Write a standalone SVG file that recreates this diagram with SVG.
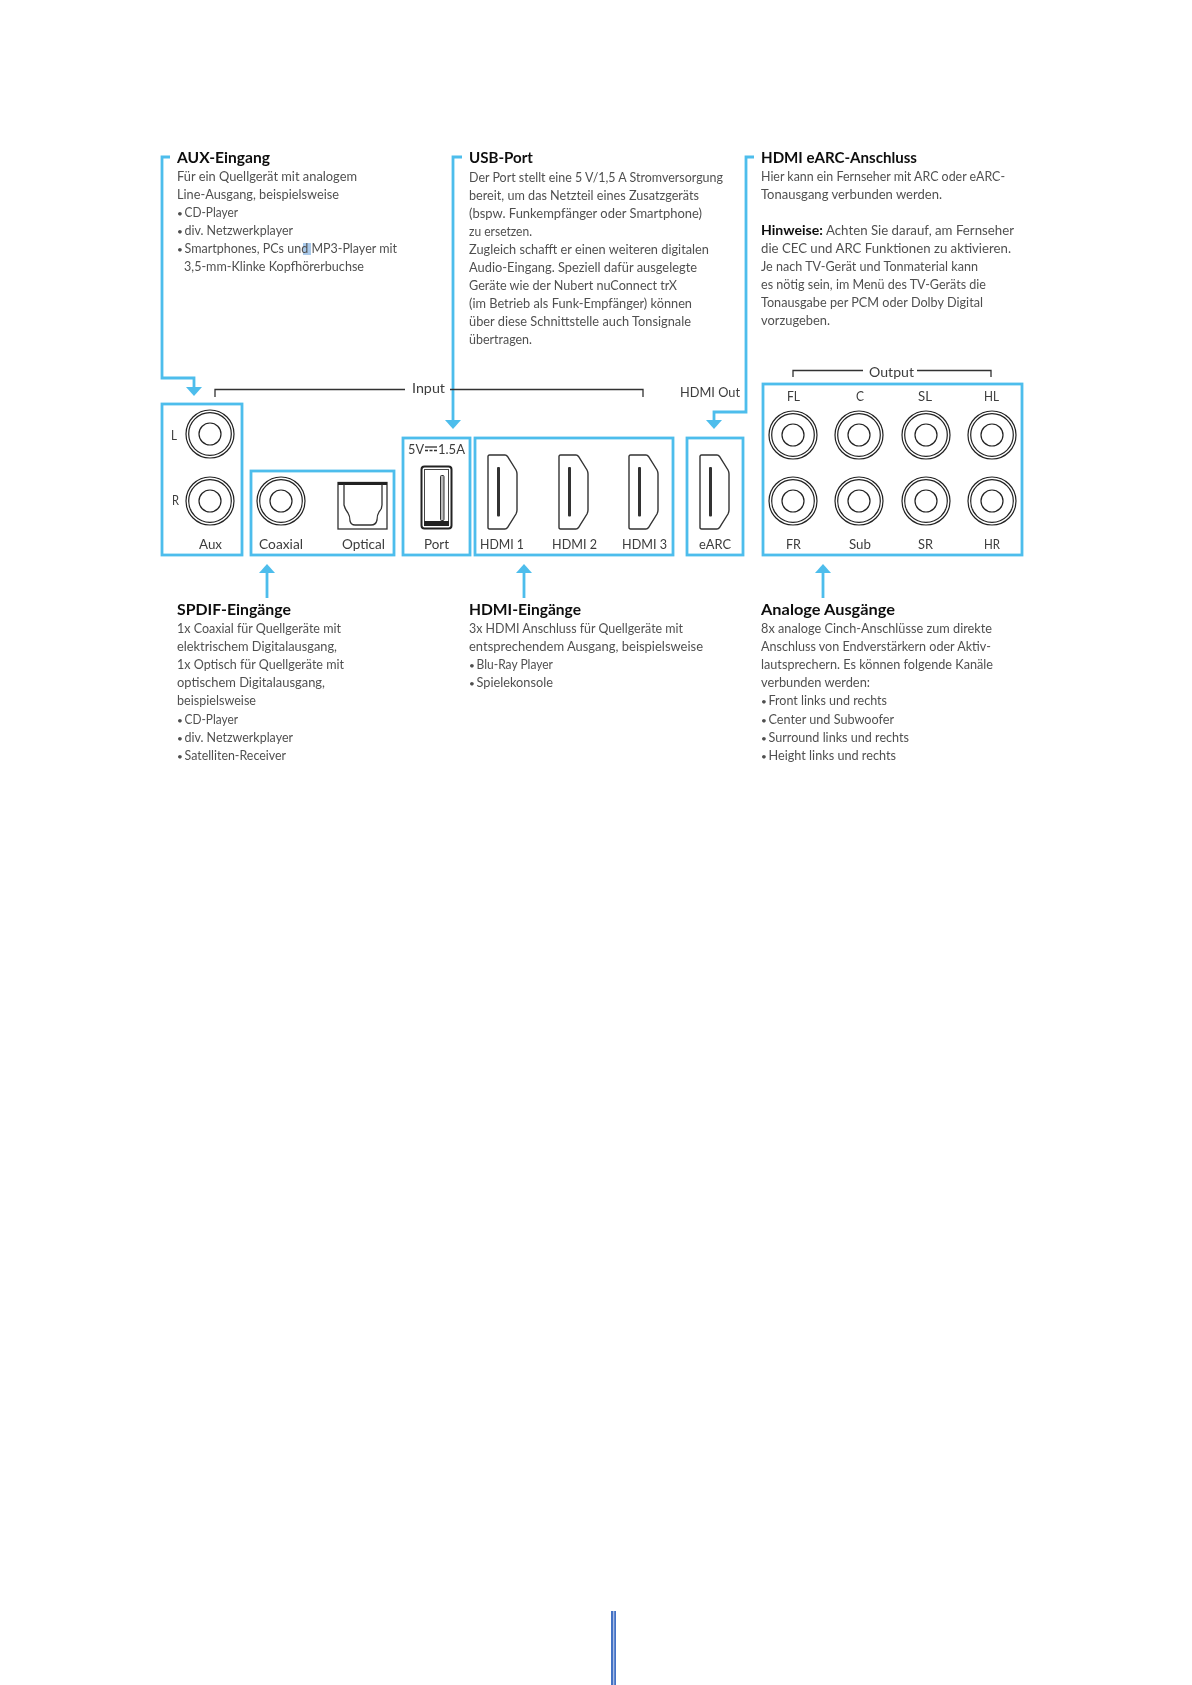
<svg xmlns="http://www.w3.org/2000/svg" xmlns:xlink="http://www.w3.org/1999/xlink" width="1192" height="1685" viewBox="0 0 1192 1685">
<style>
text{font-family:"Lato","Noto Sans","Liberation Sans",sans-serif}
.b{font-size:14px;fill:#505050}
.d{font-size:10px;fill:#505050}
.h{font-size:16px;font-weight:700;fill:#111}
.hb{font-size:14px;font-weight:700;fill:#111}
.l{font-size:14px;fill:#3c3c3c}
.box{fill:none;stroke:#4dbdec;stroke-width:2.8}
.con{fill:none;stroke:#4dbdec;stroke-width:2.8}
.br{fill:none;stroke:#333;stroke-width:1.3}
.j{fill:none;stroke:#222;stroke-width:1.2}
.p{fill:#fff;stroke:#333;stroke-width:1.4}
</style>
<defs>
<filter id="soft" filterUnits="userSpaceOnUse" x="0" y="0" width="1192" height="1685"><feGaussianBlur stdDeviation="0.5"/></filter>
<marker id="arr" markerUnits="userSpaceOnUse" markerWidth="10" markerHeight="18" refX="0" refY="9" orient="auto"><path d="M0,1 L9,9 L0,17 Z" fill="#4dbdec"/></marker>
<g id="jack"><circle class="j" r="24"/><circle class="j" r="21.3"/><circle class="j" r="11"/></g>
<g id="hd"><path class="p" d="M0,1.5 Q0,0 1.5,0 H17 Q18.5,0 19.5,1.5 L28,15 Q29,17 29,19 V55 Q29,57 28,59 L19.5,72.5 Q18.5,74 17,74 H1.5 Q0,74 0,72.5 Z"/><rect x="9" y="12" width="3" height="49.500" rx="1" fill="#333"/></g>
</defs>
<rect width="1192" height="1685" fill="#fff"/>
<g filter="url(#soft)">
<g id="connectors">
<path class="con" d="M170,157 H162 V378 H194 V387" marker-end="url(#arr)"/>
<path class="con" d="M462,157 H453 V420" marker-end="url(#arr)"/>
<path class="con" d="M754,157 H746 V412 H714 V420" marker-end="url(#arr)"/>
<path class="con" d="M267,598 V573" marker-end="url(#arr)"/>
<path class="con" d="M524,598 V573" marker-end="url(#arr)"/>
<path class="con" d="M823,598 V573" marker-end="url(#arr)"/>
<path class="br" d="M215,397 V389.500 H405 M450,389.500 H643 V397"/>
<path class="br" d="M793,377 V370.500 H863 M917,370.500 H991 V377"/>
</g>
<g id="text-aux">
<rect x="303" y="243" width="8" height="12" fill="#a9c9ea"/>
<text class="h" x="177" y="163" textLength="93" lengthAdjust="spacingAndGlyphs">AUX-Eingang</text>
<text class="b" x="177" y="181" textLength="180" lengthAdjust="spacingAndGlyphs">Für ein Quellgerät mit analogem</text>
<text class="b" x="177" y="199" textLength="162" lengthAdjust="spacingAndGlyphs">Line-Ausgang, beispielsweise</text>
<text class="d" x="177" y="217">•</text><text class="b" x="184.500" y="217" textLength="53.500" lengthAdjust="spacingAndGlyphs">CD-Player</text>
<text class="d" x="177" y="235">•</text><text class="b" x="184.500" y="235" textLength="108.500" lengthAdjust="spacingAndGlyphs">div. Netzwerkplayer</text>
<text class="d" x="177" y="253">•</text><text class="b" x="184.500" y="253" textLength="212.500" lengthAdjust="spacingAndGlyphs">Smartphones, PCs und MP3-Player mit</text>
<text class="b" x="184" y="271" textLength="180" lengthAdjust="spacingAndGlyphs">3,5-mm-Klinke Kopfhörerbuchse</text>
</g>
<g id="text-usb">
<text class="h" x="469" y="163" textLength="64" lengthAdjust="spacingAndGlyphs">USB-Port</text>
<text class="b" x="469" y="182" textLength="254" lengthAdjust="spacingAndGlyphs">Der Port stellt eine 5 V/1,5 A Stromversorgung</text>
<text class="b" x="469" y="200" textLength="230" lengthAdjust="spacingAndGlyphs">bereit, um das Netzteil eines Zusatzgeräts</text>
<text class="b" x="469" y="218" textLength="233" lengthAdjust="spacingAndGlyphs">(bspw. Funkempfänger oder Smartphone)</text>
<text class="b" x="469" y="236" textLength="63" lengthAdjust="spacingAndGlyphs">zu ersetzen.</text>
<text class="b" x="469" y="254" textLength="240" lengthAdjust="spacingAndGlyphs">Zugleich schafft er einen weiteren digitalen</text>
<text class="b" x="469" y="272" textLength="228" lengthAdjust="spacingAndGlyphs">Audio-Eingang. Speziell dafür ausgelegte</text>
<text class="b" x="469" y="290" textLength="208" lengthAdjust="spacingAndGlyphs">Geräte wie der Nubert nuConnect trX</text>
<text class="b" x="469" y="308" textLength="223" lengthAdjust="spacingAndGlyphs">(im Betrieb als Funk-Empfänger) können</text>
<text class="b" x="469" y="326" textLength="222" lengthAdjust="spacingAndGlyphs">über diese Schnittstelle auch Tonsignale</text>
<text class="b" x="469" y="344" textLength="63" lengthAdjust="spacingAndGlyphs">übertragen.</text>
</g>
<g id="text-earc">
<text class="h" x="761" y="163" textLength="156" lengthAdjust="spacingAndGlyphs">HDMI eARC-Anschluss</text>
<text class="b" x="761" y="181" textLength="244" lengthAdjust="spacingAndGlyphs">Hier kann ein Fernseher mit ARC oder eARC-</text>
<text class="b" x="761" y="199" textLength="181" lengthAdjust="spacingAndGlyphs">Tonausgang verbunden werden.</text>
<text class="hb" x="761" y="235" textLength="62" lengthAdjust="spacingAndGlyphs">Hinweise:</text>
<text class="b" x="826" y="235" textLength="188" lengthAdjust="spacingAndGlyphs">Achten Sie darauf, am Fernseher</text>
<text class="b" x="761" y="253" textLength="250" lengthAdjust="spacingAndGlyphs">die CEC und ARC Funktionen zu aktivieren.</text>
<text class="b" x="761" y="271" textLength="217" lengthAdjust="spacingAndGlyphs">Je nach TV-Gerät und Tonmaterial kann</text>
<text class="b" x="761" y="289" textLength="225" lengthAdjust="spacingAndGlyphs">es nötig sein, im Menü des TV-Geräts die</text>
<text class="b" x="761" y="307" textLength="222" lengthAdjust="spacingAndGlyphs">Tonausgabe per PCM oder Dolby Digital</text>
<text class="b" x="761" y="325" textLength="69" lengthAdjust="spacingAndGlyphs">vorzugeben.</text>
</g>
<g id="bracket-labels">
<text class="l" x="412" y="393" textLength="33" lengthAdjust="spacingAndGlyphs">Input</text>
<text class="l" x="869" y="377" textLength="45" lengthAdjust="spacingAndGlyphs">Output</text>
<text class="l" x="680" y="397" textLength="60" lengthAdjust="spacingAndGlyphs">HDMI Out</text>
</g>
<g id="node-aux">
<rect class="box" x="162" y="404" width="80" height="151"/>
<use href="#jack" x="210" y="434"/>
<use href="#jack" x="210" y="501"/>
<text class="l" x="171" y="440" textLength="6" lengthAdjust="spacingAndGlyphs">L</text>
<text class="l" x="172" y="505" textLength="7" lengthAdjust="spacingAndGlyphs">R</text>
<text class="l" x="199" y="549" textLength="23" lengthAdjust="spacingAndGlyphs">Aux</text>
</g>
<g id="node-spdif">
<rect class="box" x="251" y="471" width="143" height="84"/>
<use href="#jack" x="281" y="501"/>
<rect x="338" y="482.500" width="49" height="46.500" fill="none" stroke="#333" stroke-width="1.3"/>
<rect x="338" y="482" width="49" height="3" fill="#222"/>
<path d="M344,484 V505 Q345,509 348,513 Q350,516 350,521 Q351,525 355,525 H371 Q376,525 377,520 Q377,515 379,512 Q382,509 382,505 V484" fill="none" stroke="#333" stroke-width="1.3"/>
<text class="l" x="259" y="549" textLength="44" lengthAdjust="spacingAndGlyphs">Coaxial</text>
<text class="l" x="342" y="549" textLength="43" lengthAdjust="spacingAndGlyphs">Optical</text>
</g>
<g id="node-port">
<rect class="box" x="403" y="438" width="67" height="117"/>
<text class="l" x="408" y="454" textLength="16" lengthAdjust="spacingAndGlyphs">5V</text>
<path d="M425,447 H437" stroke="#333" stroke-width="1.3" fill="none"/>
<path d="M425,450.500 H437" stroke="#333" stroke-width="1.3" stroke-dasharray="3 1.500" fill="none"/>
<text class="l" x="438" y="454" textLength="27" lengthAdjust="spacingAndGlyphs">1.5A</text>
<rect x="421.500" y="466.500" width="30" height="62" rx="3" fill="#fff" stroke="#222" stroke-width="2"/>
<rect x="424.500" y="469.500" width="24" height="56" fill="none" stroke="#444" stroke-width="1"/>
<rect x="424" y="521" width="25" height="5" fill="#222"/>
<rect x="440.500" y="475.500" width="3.500" height="45" rx="1" fill="#bbb" stroke="#333" stroke-width="1"/>
<text class="l" x="424" y="549" textLength="25" lengthAdjust="spacingAndGlyphs">Port</text>
</g>
<g id="node-hdmi">
<rect class="box" x="475" y="438" width="198" height="117"/>
<use href="#hd" x="488" y="455"/>
<use href="#hd" x="559" y="455"/>
<use href="#hd" x="629" y="455"/>
<text class="l" x="480" y="549" textLength="44" lengthAdjust="spacingAndGlyphs">HDMI 1</text>
<text class="l" x="552" y="549" textLength="45" lengthAdjust="spacingAndGlyphs">HDMI 2</text>
<text class="l" x="622" y="549" textLength="45" lengthAdjust="spacingAndGlyphs">HDMI 3</text>
</g>
<g id="node-earc">
<rect class="box" x="687" y="438" width="56" height="117"/>
<use href="#hd" x="700" y="455"/>
<text class="l" x="699" y="549" textLength="32" lengthAdjust="spacingAndGlyphs">eARC</text>
</g>
<g id="node-output">
<rect class="box" x="763" y="384" width="259" height="171"/>
<use href="#jack" x="793" y="435"/><use href="#jack" x="859" y="435"/><use href="#jack" x="926" y="435"/><use href="#jack" x="992" y="435"/>
<use href="#jack" x="793" y="501"/><use href="#jack" x="859" y="501"/><use href="#jack" x="926" y="501"/><use href="#jack" x="992" y="501"/>
<text class="l" x="787" y="401" textLength="13" lengthAdjust="spacingAndGlyphs">FL</text>
<text class="l" x="856" y="401" textLength="8" lengthAdjust="spacingAndGlyphs">C</text>
<text class="l" x="918" y="401" textLength="14" lengthAdjust="spacingAndGlyphs">SL</text>
<text class="l" x="984" y="401" textLength="15" lengthAdjust="spacingAndGlyphs">HL</text>
<text class="l" x="786" y="549" textLength="15" lengthAdjust="spacingAndGlyphs">FR</text>
<text class="l" x="849" y="549" textLength="22" lengthAdjust="spacingAndGlyphs">Sub</text>
<text class="l" x="918" y="549" textLength="15" lengthAdjust="spacingAndGlyphs">SR</text>
<text class="l" x="984" y="549" textLength="16" lengthAdjust="spacingAndGlyphs">HR</text>
</g>
<g id="text-spdif">
<text class="h" x="177" y="615" textLength="114" lengthAdjust="spacingAndGlyphs">SPDIF-Eingänge</text>
<text class="b" x="177" y="633" textLength="164" lengthAdjust="spacingAndGlyphs">1x Coaxial für Quellgeräte mit</text>
<text class="b" x="177" y="651" textLength="160" lengthAdjust="spacingAndGlyphs">elektrischem Digitalausgang,</text>
<text class="b" x="177" y="669" textLength="167" lengthAdjust="spacingAndGlyphs">1x Optisch für Quellgeräte mit</text>
<text class="b" x="177" y="687" textLength="148" lengthAdjust="spacingAndGlyphs">optischem Digitalausgang,</text>
<text class="b" x="177" y="705" textLength="79" lengthAdjust="spacingAndGlyphs">beispielsweise</text>
<text class="d" x="177" y="724">•</text><text class="b" x="184.500" y="724" textLength="53.500" lengthAdjust="spacingAndGlyphs">CD-Player</text>
<text class="d" x="177" y="742">•</text><text class="b" x="184.500" y="742" textLength="108.500" lengthAdjust="spacingAndGlyphs">div. Netzwerkplayer</text>
<text class="d" x="177" y="760">•</text><text class="b" x="184.500" y="760" textLength="101.500" lengthAdjust="spacingAndGlyphs">Satelliten-Receiver</text>
</g>
<g id="text-hdmi">
<text class="h" x="469" y="615" textLength="112" lengthAdjust="spacingAndGlyphs">HDMI-Eingänge</text>
<text class="b" x="469" y="633" textLength="214" lengthAdjust="spacingAndGlyphs">3x HDMI Anschluss für Quellgeräte mit</text>
<text class="b" x="469" y="651" textLength="234" lengthAdjust="spacingAndGlyphs">entsprechendem Ausgang, beispielsweise</text>
<text class="d" x="469" y="669">•</text><text class="b" x="476.500" y="669" textLength="76.500" lengthAdjust="spacingAndGlyphs">Blu-Ray Player</text>
<text class="d" x="469" y="687">•</text><text class="b" x="476.500" y="687" textLength="76.500" lengthAdjust="spacingAndGlyphs">Spielekonsole</text>
</g>
<g id="text-analog">
<text class="h" x="761" y="615" textLength="134" lengthAdjust="spacingAndGlyphs">Analoge Ausgänge</text>
<text class="b" x="761" y="633" textLength="231" lengthAdjust="spacingAndGlyphs">8x analoge Cinch-Anschlüsse zum direkte</text>
<text class="b" x="761" y="651" textLength="230" lengthAdjust="spacingAndGlyphs">Anschluss von Endverstärkern oder Aktiv-</text>
<text class="b" x="761" y="669" textLength="232" lengthAdjust="spacingAndGlyphs">lautsprechern. Es können folgende Kanäle</text>
<text class="b" x="761" y="687" textLength="109" lengthAdjust="spacingAndGlyphs">verbunden werden:</text>
<text class="d" x="761" y="705">•</text><text class="b" x="768.500" y="705" textLength="118.500" lengthAdjust="spacingAndGlyphs">Front links und rechts</text>
<text class="d" x="761" y="724">•</text><text class="b" x="768.500" y="724" textLength="125.500" lengthAdjust="spacingAndGlyphs">Center und Subwoofer</text>
<text class="d" x="761" y="742">•</text><text class="b" x="768.500" y="742" textLength="140.500" lengthAdjust="spacingAndGlyphs">Surround links und rechts</text>
<text class="d" x="761" y="760">•</text><text class="b" x="768.500" y="760" textLength="127.500" lengthAdjust="spacingAndGlyphs">Height links und rechts</text>
</g>
</g>
<g id="footer-bar">
<rect x="611" y="1611" width="5" height="74" fill="#4472c4"/>
<rect x="613" y="1611" width="1.300" height="74" fill="#a9bde6"/>
</g>
</svg>
